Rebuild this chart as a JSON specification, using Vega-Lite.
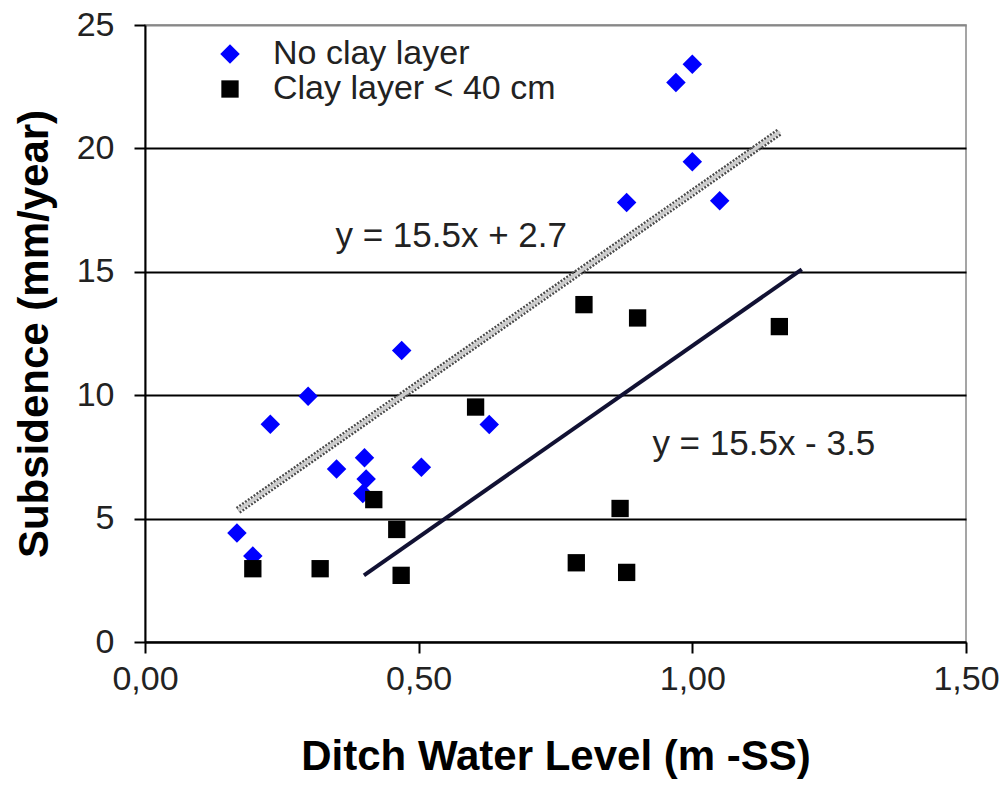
{
  "$schema": "https://vega.github.io/schema/vega-lite/v6.json",
  "width": 821,
  "height": 617,
  "autosize": "none",
  "padding": {"left": 145, "top": 25, "right": 38, "bottom": 145},
  "background": "white",
  "config": {
    "font": "Liberation Sans",
    "view": {"stroke": "#888888", "strokeWidth": 1.5}
  },
  "datasets": {
    "points": [
      {"level": 0.469, "subsidence": 11.81, "series": "No clay layer"},
      {"level": 0.298, "subsidence": 9.96, "series": "No clay layer"},
      {"level": 0.229, "subsidence": 8.82, "series": "No clay layer"},
      {"level": 0.629, "subsidence": 8.81, "series": "No clay layer"},
      {"level": 0.401, "subsidence": 7.47, "series": "No clay layer"},
      {"level": 0.350, "subsidence": 7.01, "series": "No clay layer"},
      {"level": 0.505, "subsidence": 7.08, "series": "No clay layer"},
      {"level": 0.404, "subsidence": 6.6, "series": "No clay layer"},
      {"level": 0.398, "subsidence": 6.02, "series": "No clay layer"},
      {"level": 0.168, "subsidence": 4.42, "series": "No clay layer"},
      {"level": 0.197, "subsidence": 3.48, "series": "No clay layer"},
      {"level": 1.000, "subsidence": 23.41, "series": "No clay layer"},
      {"level": 0.970, "subsidence": 22.67, "series": "No clay layer"},
      {"level": 1.000, "subsidence": 19.46, "series": "No clay layer"},
      {"level": 0.880, "subsidence": 17.81, "series": "No clay layer"},
      {"level": 1.050, "subsidence": 17.88, "series": "No clay layer"},
      {"level": 0.604, "subsidence": 9.52, "series": "Clay layer < 40 cm"},
      {"level": 0.418, "subsidence": 5.77, "series": "Clay layer < 40 cm"},
      {"level": 0.460, "subsidence": 4.56, "series": "Clay layer < 40 cm"},
      {"level": 0.197, "subsidence": 2.97, "series": "Clay layer < 40 cm"},
      {"level": 0.320, "subsidence": 2.97, "series": "Clay layer < 40 cm"},
      {"level": 0.468, "subsidence": 2.70, "series": "Clay layer < 40 cm"},
      {"level": 0.802, "subsidence": 13.67, "series": "Clay layer < 40 cm"},
      {"level": 0.900, "subsidence": 13.13, "series": "Clay layer < 40 cm"},
      {"level": 1.159, "subsidence": 12.78, "series": "Clay layer < 40 cm"},
      {"level": 0.868, "subsidence": 5.41, "series": "Clay layer < 40 cm"},
      {"level": 0.788, "subsidence": 3.21, "series": "Clay layer < 40 cm"},
      {"level": 0.880, "subsidence": 2.82, "series": "Clay layer < 40 cm"}
    ],
    "fits": [
      {"level": 0.17, "subsidence": 5.335, "fit": "no clay"},
      {"level": 1.16, "subsidence": 20.68, "fit": "no clay"},
      {"level": 0.40, "subsidence": 2.7, "fit": "clay"},
      {"level": 1.20, "subsidence": 15.1, "fit": "clay"}
    ],
    "labels": [
      {"level": 0.348, "subsidence": 16.02, "text": "y = 15.5x + 2.7"},
      {"level": 0.927, "subsidence": 7.58, "text": "y = 15.5x - 3.5"}
    ]
  },
  "encoding": {
    "x": {
      "field": "level",
      "type": "quantitative",
      "scale": {"domain": [0, 1.5], "nice": false, "zero": true},
      "axis": {
        "title": "Ditch Water Level (m -SS)",
        "values": [0, 0.5, 1, 1.5],
        "labelExpr": "replace(format(datum.value, '.2f'), '.', ',')",
        "grid": false,
        "domainColor": "#000000",
        "domainWidth": 2,
        "tickColor": "#000000",
        "tickWidth": 2,
        "tickSize": 11,
        "labelFontSize": 34,
        "labelColor": "#222222",
        "labelPadding": 9,
        "labelFlush": false,
        "titleFontSize": 42,
        "titleFontWeight": "bold",
        "titleColor": "#000000",
        "titlePadding": 40
      }
    },
    "y": {
      "field": "subsidence",
      "type": "quantitative",
      "scale": {"domain": [0, 25], "nice": false},
      "axis": {
        "title": "Subsidence (mm/year)",
        "values": [0, 5, 10, 15, 20, 25],
        "grid": true,
        "gridColor": {"condition": {"test": "datum.value == 25", "value": "#888888"}, "value": "#000000"},
        "gridWidth": 1.8,
        "domainColor": "#000000",
        "domainWidth": 2,
        "tickColor": "#000000",
        "tickWidth": 2,
        "tickSize": 11,
        "labelFontSize": 34,
        "labelColor": "#222222",
        "labelPadding": 20,
        "labelFlush": false,
        "titleFontSize": 42,
        "titleFontWeight": "bold",
        "titleColor": "#000000",
        "titlePadding": 20
      }
    }
  },
  "layer": [
    {
      "data": {"name": "fits"},
      "transform": [{"filter": "datum.fit == 'no clay'"}],
      "mark": {"type": "line", "color": "#4a4a4a", "strokeWidth": 8, "strokeDash": [2, 1.5]},
      "encoding": {"detail": {"field": "fit"}}
    },
    {
      "data": {"name": "fits"},
      "transform": [{"filter": "datum.fit == 'no clay'"}],
      "mark": {"type": "line", "color": "#cccccc", "strokeWidth": 3.5},
      "encoding": {"detail": {"field": "fit"}}
    },
    {
      "data": {"name": "fits"},
      "transform": [{"filter": "datum.fit == 'clay'"}],
      "mark": {"type": "line", "color": "#111133", "strokeWidth": 4},
      "encoding": {"detail": {"field": "fit"}}
    },
    {
      "data": {"name": "points"},
      "mark": {"type": "point", "filled": true, "opacity": 1},
      "encoding": {
        "color": {
          "field": "series",
          "type": "nominal",
          "scale": {"domain": ["No clay layer", "Clay layer < 40 cm"], "range": ["#0000ff", "#000000"]},
          "legend": {
            "title": null,
            "orient": "none",
            "legendX": 68,
            "legendY": 12,
            "labelFontSize": 34,
            "labelColor": "#222222",
            "labelOffset": 26,
            "labelLimit": 0,
            "rowPadding": 1,
            "symbolSize": 300,
            "symbolStrokeWidth": 0,
            "padding": 0
          }
        },
        "shape": {
          "field": "series",
          "type": "nominal",
          "scale": {"domain": ["No clay layer", "Clay layer < 40 cm"], "range": ["diamond", "square"]},
          "legend": {
            "title": null,
            "orient": "none",
            "legendX": 68,
            "legendY": 12,
            "labelFontSize": 34,
            "labelColor": "#222222",
            "labelOffset": 26,
            "labelLimit": 0,
            "rowPadding": 1,
            "symbolSize": 300,
            "symbolStrokeWidth": 0,
            "padding": 0
          }
        },
        "size": {
          "field": "series",
          "type": "nominal",
          "scale": {"domain": ["No clay layer", "Clay layer < 40 cm"], "range": [380, 300]},
          "legend": null
        }
      }
    },
    {
      "data": {"name": "labels"},
      "mark": {"type": "text", "align": "left", "baseline": "alphabetic", "fontSize": 35, "color": "#222222"},
      "encoding": {"text": {"field": "text"}}
    }
  ]
}
